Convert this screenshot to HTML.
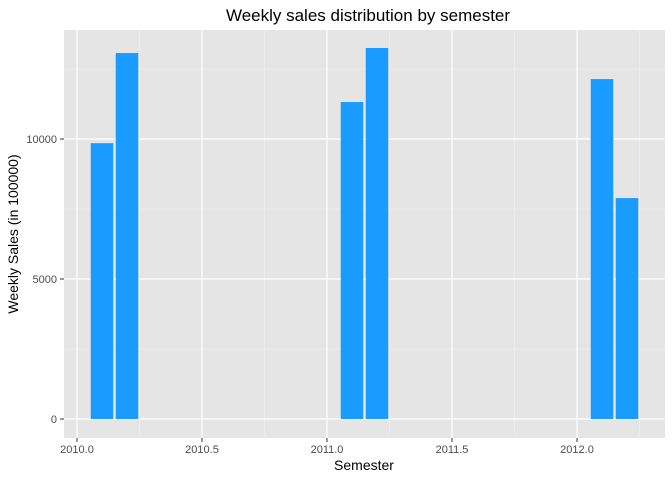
<!DOCTYPE html>
<html><head><meta charset="utf-8"><style>
body{margin:0;background:#fff;font-family:"Liberation Sans",Arial,sans-serif}
</style></head><body>
<svg id="chart" width="672" height="480" xmlns="http://www.w3.org/2000/svg">
<text x="368" y="21" font-size="17" text-anchor="middle" fill="#000">Weekly sales distribution by semester</text>
<rect x="64" y="30" width="601" height="408" fill="#e5e5e5"/>
<g id="grid"></g><g id="bars"></g><g id="axes"></g>
<text x="364" y="470" font-size="14" text-anchor="middle">Semester</text>
<text transform="translate(18,234) rotate(-90)" font-size="14" text-anchor="middle">Weekly Sales (in 100000)</text>
</svg>
<script>
const semesters=[2010.1,2010.2,2011.1,2011.2,2012.1,2012.2];
const sales=[9850,13070,11320,13250,12140,7890];
const xTicks=[2010.0,2010.5,2011.0,2011.5,2012.0];
const xTickLabels=["2010.0","2010.5","2011.0","2011.5","2012.0"];
const yTicks=[0,5000,10000];
const yTickLabels=["0","5000","10000"];
const NS="http://www.w3.org/2000/svg";
const L=64,R=665,T=30,B=438,xMin=2009.948,xMax=2012.352,yMin=-679,yMax=13893;
const xs=v=>L+(v-xMin)/(xMax-xMin)*(R-L);
const ys=v=>B-(v-yMin)/(yMax-yMin)*(B-T);
function mk(tag,attrs,parent){const e=document.createElementNS(NS,tag);for(const k in attrs)e.setAttribute(k,attrs[k]);document.getElementById(parent).appendChild(e);return e;}
const grid='grid';
[2010.25,2010.75,2011.25,2011.75,2012.25].forEach(v=>{const l=mk('line',{x1:xs(v),x2:xs(v),y1:T,y2:B,stroke:'#f2f2f2','stroke-width':0.6},grid);

});
[2500,7500,12500].forEach(v=>{const l=mk('line',{x1:L,x2:R,y1:ys(v),y2:ys(v),stroke:'#f2f2f2','stroke-width':0.6},grid);

});
xTicks.forEach((v,i)=>{const l=mk('line',{x1:xs(v),x2:xs(v),y1:T,y2:B,stroke:'#fff','stroke-width':1.2},grid);


const t=mk('line',{x1:xs(v),x2:xs(v),y1:B,y2:B+4,stroke:'#333'},'axes');


const tx=mk('text',{x:xs(v),y:B+15,'font-size':11,'text-anchor':'middle',fill:'#4d4d4d'},'axes');tx.textContent=xTickLabels[i];

});
yTicks.forEach((v,i)=>{const l=mk('line',{x1:L,x2:R,y1:ys(v),y2:ys(v),stroke:'#fff','stroke-width':1.2},grid);


const t=mk('line',{x1:L-4,x2:L,y1:ys(v),y2:ys(v),stroke:'#333'},'axes');


const tx=mk('text',{x:L-7,y:ys(v)+4,'font-size':11,'text-anchor':'end',fill:'#4d4d4d'},'axes');tx.textContent=yTickLabels[i];

});
const w=0.09;
semesters.forEach((s,i)=>{const x0=xs(s-w/2),x1=xs(s+w/2),y0=ys(sales[i]),y1=ys(0);
const r=mk('rect',{x:x0,y:y0,width:x1-x0,height:y1-y0,fill:'#1a9bff'},'bars');

});
</script>
</body></html>
